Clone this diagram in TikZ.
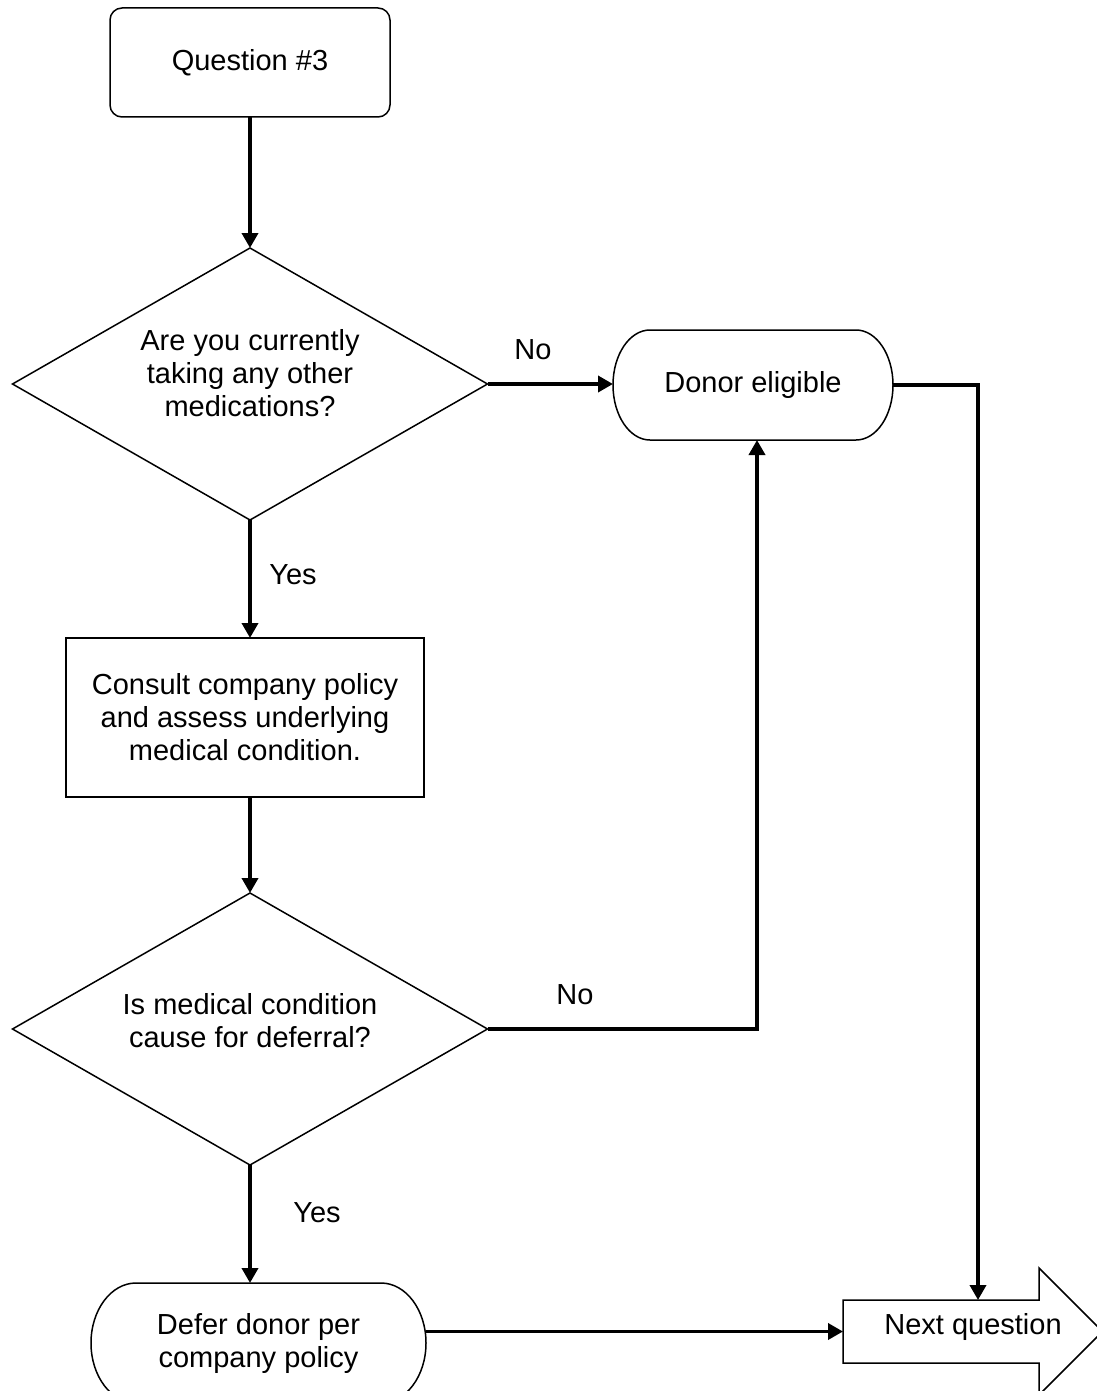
\documentclass[tikz,border=0pt]{standalone}
\usepackage{fontspec}
\setmainfont{Liberation Sans}
\usetikzlibrary{arrows.meta,shapes.geometric}
\begin{document}
\begin{tikzpicture}[x=1pt,y=1pt,
  every node/.style={font=\fontsize{29pt}{33pt}\selectfont, inner sep=0pt, outer sep=0pt},
  shp/.style={draw=black, line width=1.5pt},
  conn/.style={draw=black, line width=3.6pt, -{Triangle[length=15pt,width=16pt]}},
  txt/.style={align=center},
  diam/.style={shp, diamond, minimum width=475pt, minimum height=272pt},
]
\useasboundingbox[fill=white] (0,0) rectangle (1096,-1391);

% Question #3
\node[shp, rounded corners=12pt, minimum width=280pt, minimum height=109pt, txt] (q3) at (250,-62.5) {Question \#3};

% Diamond 1
\node[diam] (d1) at (250,-384) {};
\node[txt] (t1) at (250,-373) {Are you currently\\taking any other\\medications?};

% Donor eligible (stadium)
\node[minimum width=280pt, minimum height=110pt] (de) at (753,-385) {Donor eligible};
\draw[shp] ([xshift=37pt]de.north west) -- ([xshift=-37pt]de.north east)
  arc[start angle=90,end angle=-90,x radius=37pt,y radius=55pt]
  -- ([xshift=37pt]de.south west)
  arc[start angle=270,end angle=90,x radius=37pt,y radius=55pt] -- cycle;

% Consult box
\node[shp, minimum width=358pt, minimum height=159pt, txt] (cp) at (245,-717.5) {Consult company policy\\and assess underlying\\medical condition.};

% Diamond 2
\node[diam] (d2) at (250,-1029) {};
\node[txt] (t2) at (250,-1021) {Is medical condition\\cause for deferral?};

% Defer (stadium)
\node[minimum width=335pt, minimum height=120pt, txt] (df) at (258.5,-1343) {Defer donor per\\company policy};
\draw[shp] ([xshift=45pt]df.north west) -- ([xshift=-45pt]df.north east)
  arc[start angle=90,end angle=-90,x radius=45pt,y radius=60pt]
  -- ([xshift=45pt]df.south west)
  arc[start angle=270,end angle=90,x radius=45pt,y radius=60pt] -- cycle;

% Next question (block arrow)
\node[minimum width=196pt, minimum height=63pt] (nq) at (941,-1331.5) {};
\draw[shp] (nq.north west) -- (nq.north east) -- ([yshift=32pt]nq.north east)
  -- (1102.5,-1331.5) -- ([yshift=-32pt]nq.south east) -- (nq.south east)
  -- (nq.south west) -- cycle;
\node (nqt) at (973,-1327) {Next question};

% Labels
\node (l1) at (533,-350) {No};
\node (l2) at (293,-575) {Yes};
\node (l3) at (575,-995) {No};
\node (l4) at (317,-1213) {Yes};

% Connectors
\draw[conn] (q3.south) -- (d1.north);
\draw[conn] (d1.east) -- (de.west |- d1.east);
\draw[conn] (d1.south) -- (d1.south |- cp.north);
\draw[conn] (cp.south -| d2.north) -- (d2.north);
\draw[conn] (d2.east) -| ([xshift=4pt]de.south);
\draw[conn] (d2.south) -- (d2.south |- df.north);
\draw[conn] (nq.west -| df.east) -- (nq.west);
\draw[conn] (de.east) -| ([xshift=37pt]nq.north);
\end{tikzpicture}
\end{document}
